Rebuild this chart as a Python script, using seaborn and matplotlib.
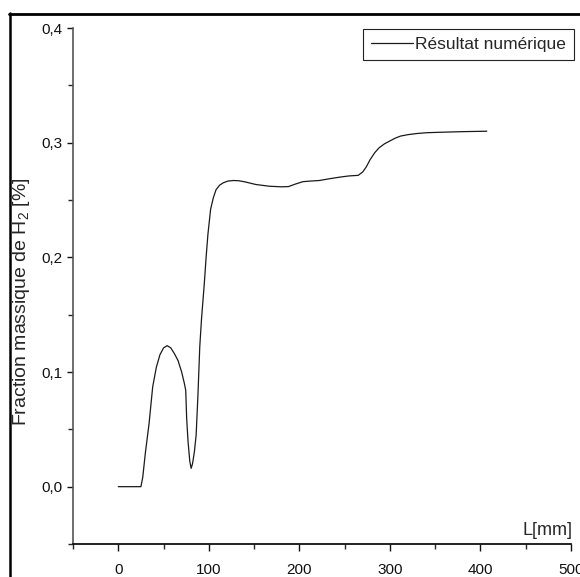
import matplotlib
matplotlib.use("Agg")
import matplotlib.pyplot as plt
import seaborn as sns
import pandas as pd
from matplotlib.lines import Line2D
from matplotlib.ticker import MultipleLocator, FuncFormatter
from matplotlib import font_manager

L_mm = [0, 10, 20, 25, 27, 30, 34, 38, 42, 46, 50, 54, 58, 62, 66, 70, 73, 74.5,
        75.5, 77, 79, 80.5, 82, 84, 86, 88, 90, 92, 95, 97, 99, 102, 105, 108, 112,
        116, 121, 127, 133, 140, 152, 167, 180, 188, 196, 204, 212, 222, 233, 245,
        255, 265, 270, 274, 278, 283, 288, 294, 300, 306, 312, 320, 330, 341, 353,
        366, 380, 394, 407]
fraction_H2 = [0, 0, 0, 0, 0.008, 0.030, 0.055, 0.087, 0.104, 0.115, 0.121, 0.123,
               0.121, 0.116, 0.110, 0.100, 0.090, 0.084, 0.060, 0.040, 0.022, 0.016,
               0.020, 0.030, 0.045, 0.080, 0.122, 0.147, 0.177, 0.200, 0.220, 0.242,
               0.252, 0.259, 0.263, 0.265, 0.2665, 0.267, 0.2668, 0.2658, 0.2635,
               0.262, 0.2615, 0.2617, 0.264, 0.266, 0.2665, 0.267, 0.2685, 0.270,
               0.271, 0.2715, 0.2745, 0.279, 0.285, 0.291, 0.2955, 0.299, 0.3015,
               0.304, 0.3058, 0.307, 0.308, 0.3087, 0.309, 0.3093, 0.3096, 0.3098,
               0.310]
series_label = "Résultat numérique"
x_label = "L[mm]"
y_label = "Fraction massique de H$_2$ [%]"

df = pd.DataFrame({"L": L_mm, "frac": fraction_H2, "serie": series_label})

sns.set_style("white")
names = {f.name for f in font_manager.fontManager.ttflist}
fam = "Liberation Sans Narrow" if "Liberation Sans Narrow" in names else "Liberation Sans"
plt.rcParams["font.family"] = [fam, "DejaVu Sans"]
plt.rcParams["mathtext.fontset"] = "custom"
plt.rcParams["mathtext.rm"] = fam
plt.rcParams["mathtext.it"] = fam

fig = plt.figure(figsize=(5.8, 5.77), dpi=100)
ax = fig.add_axes([73/580, 1-544/577, (571-73)/580, (544-28)/577])

sns.lineplot(data=df, x="L", y="frac", hue="serie", palette=["#1a1a1a"],
             linewidth=0.9, ax=ax, legend=False)

ax.set_xlim(-50, 500)
ax.set_ylim(-0.05, 0.4)
ax.xaxis.set_major_locator(MultipleLocator(100))
ax.xaxis.set_minor_locator(MultipleLocator(50))
ax.yaxis.set_major_locator(MultipleLocator(0.1))
ax.yaxis.set_minor_locator(MultipleLocator(0.05))
ax.yaxis.set_major_formatter(FuncFormatter(lambda v, p: f"{v:.1f}".replace(".", ",").replace("-0,0", "0,0")))
ax.xaxis.set_major_formatter(FuncFormatter(lambda v, p: f"{v:.0f}"))

for s in ["top", "right"]:
    ax.spines[s].set_visible(False)
ax.spines["left"].set_color("#555555")
ax.spines["left"].set_linewidth(1.2)
ax.spines["bottom"].set_color("#111111")
ax.spines["bottom"].set_linewidth(1.3)

ax.tick_params(axis="y", which="major", direction="out", length=4.5, width=1.0,
               pad=3, labelsize=11, colors="#111111", left=True)
ax.tick_params(axis="y", which="minor", direction="out", length=3.5, width=1.0, left=True)
ax.tick_params(axis="x", which="major", direction="out", length=5, width=1.0,
               pad=8.5, labelsize=11, colors="#111111", bottom=True)
ax.tick_params(axis="x", which="minor", direction="out", length=3.5, width=1.0, bottom=True)

ax.set_xlabel("")
ax.set_ylabel("")
fig.text(22/580, 1-302/577, y_label, rotation=90, ha="center", va="center", fontsize=14)
fig.text(573/580, 1-539/577, x_label, ha="right", va="bottom", fontsize=13)

handle = Line2D([], [], color="#1a1a1a", linewidth=0.9)
leg = fig.legend([handle], [series_label], loc="upper right",
                 bbox_to_anchor=(574/580, 1-29/577), fontsize=12.5,
                 frameon=True, fancybox=False, framealpha=1, edgecolor="#222222",
                 borderpad=0.45, handlelength=2.4, handletextpad=0.15, borderaxespad=0)
leg.get_frame().set_linewidth(0.8)

fig.add_artist(Line2D([10/580, 10/580], [0, 1-13/577], transform=fig.transFigure,
                      color="black", linewidth=1.8))
fig.add_artist(Line2D([9/580, 1], [1-14/577, 1-14/577], transform=fig.transFigure,
                      color="black", linewidth=2.0))

fig.savefig("out.png", dpi=100)
